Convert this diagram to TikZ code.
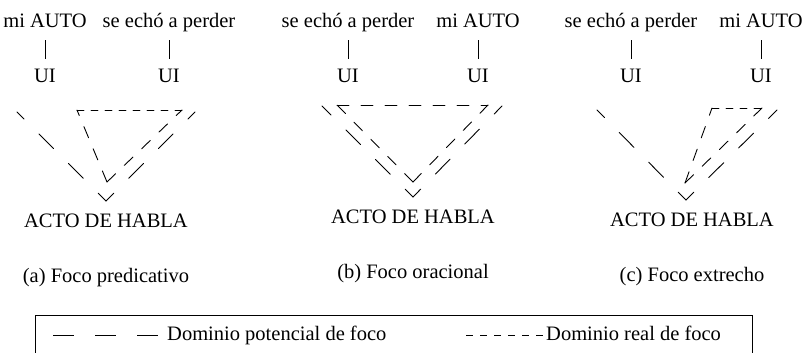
\documentclass[tikz,border=0pt]{standalone}
\usepackage{fontspec}
\setmainfont{Liberation Serif}
\usepackage{tkz-euclide}
\usetikzlibrary{positioning}

\tikzset{
  pal/.style={inner sep=0pt, text height=14pt, text depth=4.5pt,
    font=\fontsize{20.5}{24}\selectfont},
  potencial/.style={line width=.9pt, dash pattern=on 21pt off 21pt},
  real/.style={line width=.9pt, dash pattern=on 7pt off 7pt},
  largo/.style={dash pattern=on 12pt off 12pt},
  raya/.style={line width=.9pt}
}

\begin{document}
\begin{tikzpicture}[x=1pt,y=-1pt]
                \useasboundingbox (0,0) rectangle (808,353);
                \tkzDefPoints{17/112/A,195/112/B,106/201/C,77/110/D,182/110/E,107/182/F}
                \tkzDefPoints{322/106/G,502/106/H,413/197/I,337/105/J,488/105/K,413/182/L}
                \tkzDefPoints{597/110/M,777/110/N,686/200/O,712/108/P,762/108/Q,685/183/R}
                \tkzDefPoints{35/315/S,752/366/T,53/335.25/U,466/335.25/V}
                % (a)
                \node[pal,anchor=base] (a1) at (45,28) {mi AUTO};
                \node[pal,anchor=base] (a2) at (169,28) {se echó a perder};
                \node[pal,below=35.5pt of a1] (u1) {UI};
                \node[pal,below=35.5pt of a2] (u2) {UI};
                \node[pal,below=12pt of C] (h1) {ACTO DE HABLA};
                \node[pal,below=36pt of h1] (c1) {(a) Foco predicativo};
                % (b)
                \node[pal,anchor=base] (b1) at (348,28) {se echó a perder};
                \node[pal,anchor=base] (b2) at (478,28) {mi AUTO};
                \node[pal,below=35.5pt of b1] (u3) {UI};
                \node[pal,below=35.5pt of b2] (u4) {UI};
                \node[pal,below=12pt of I] (h2) {ACTO DE HABLA};
                \node[pal,below=36pt of h2] (c2) {(b) Foco oracional};
                % (c)
                \node[pal,anchor=base] (d1) at (631,28) {se echó a perder};
                \node[pal,anchor=base] (d2) at (761,28) {mi AUTO};
                \node[pal,below=35.5pt of d1] (u5) {UI};
                \node[pal,below=35.5pt of d2] (u6) {UI};
                \node[pal,below=12pt of O,xshift=6pt] (h3) {ACTO DE HABLA};
                \node[pal,below=36pt of h3] (c3) {(c) Foco extrecho};
                \foreach \w/\u in {a1/u1,a2/u2,b1/u3,b2/u4,d1/u5,d2/u6}
                  \draw[raya,shorten <=7.5pt,shorten >=9pt] (\w) -- (\u);
                \tkzDrawSegments[potencial,dash phase=10pt](C,A C,B I,G I,H O,M O,N)
                \tkzDrawSegments[real](D,E P,Q)
                \tkzDrawSegments[real,largo](F,D F,E L,J L,K J,K R,P R,Q)
                % leyenda
                \draw[line width=.8pt] (S) rectangle (T);
                \node[pal,anchor=base west] (t1) at (167,340) {Dominio potencial de foco};
                \node[pal,anchor=base west] (t2) at (546,340) {Dominio real de foco};
                \draw[potencial,shorten >=4pt] (U) -- (t1);
                \draw[real,shorten >=3pt] (V) -- (t2);
            \end{tikzpicture}
\end{document}
